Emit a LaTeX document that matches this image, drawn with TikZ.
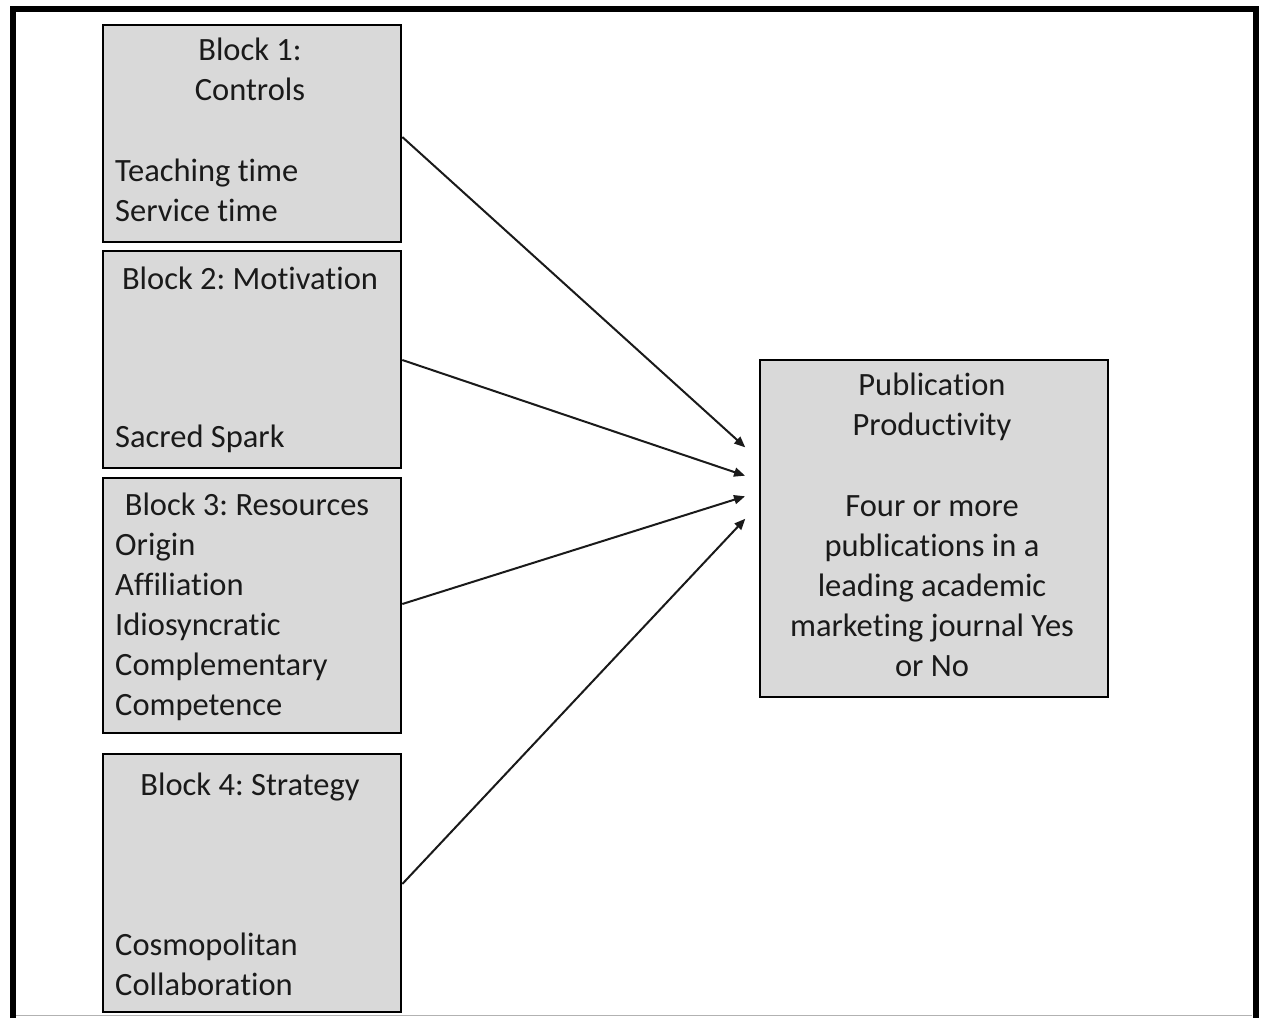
\documentclass[tikz,border=0pt]{standalone}
\usepackage{fontspec}
\setmainfont{Carlito}[Ligatures=NoCommon]
\usetikzlibrary{arrows.meta}
\definecolor{boxfill}{HTML}{D9D9D9}
\definecolor{ink}{HTML}{1A1A1A}
\frenchspacing
\begin{document}
\begin{tikzpicture}[x=1pt,y=-1pt,
  blockbox/.style={draw=black, line width=2.6pt, fill=boxfill, inner sep=0pt},
  txt/.style={inner sep=0pt, text=ink, font=\fontsize{32.5}{40}\selectfont},
  hdr/.style={txt, anchor=base, align=center},
  items/.style={txt, anchor=base west, align=left},
  link/.style={draw=ink, line width=2pt, -{Triangle[length=11pt,width=9pt]}, shorten >=1pt}]
  % page and its frame, open at the foot
  \useasboundingbox (0,0) rectangle (1264,1018);
  \fill[white] (0,0) rectangle (1264,1018);
  \draw[line width=6pt, line join=miter] (13,1018) -- (13,8.5) -- (1255.5,8.5) -- (1255.5,1018);
  \draw[gray!60, line width=1.5pt] (16,1015.5) -- (1252,1015.5);

  % predictor blocks
  \node[blockbox, minimum width=298pt, minimum height=217pt] (b1) at (252,133.5) {};
  \node[blockbox, minimum width=298pt, minimum height=217pt] (b2) at (252,359.5) {};
  \node[blockbox, minimum width=298pt, minimum height=255pt] (b3) at (252,605.5) {};
  \node[blockbox, minimum width=298pt, minimum height=258pt] (b4) at (252,883) {};
  % outcome
  \node[blockbox, minimum width=348pt, minimum height=337pt] (out) at (934,528.5) {};

  % block texts (anchored at the baseline of their last line)
  \node[hdr] (h1) at (250,100) {Block 1:\\Controls};
  \node[items] (i1) at (115,221) {Teaching time\\Service time};
  \node[hdr] (h2) at (250,289) {Block 2: Motivation};
  \node[items] (i2) at (115,447) {Sacred Spark};
  \node[hdr] (h3) at (247,515) {Block 3: Resources};
  \node[items] (i3) at (115,715) {Origin\\Affiliation\\Idiosyncratic\\Complementary\\Competence};
  \node[hdr] (h4) at (250,795) {Block 4: Strategy};
  \node[items] (i4) at (115,995) {Cosmopolitan\\Collaboration};
  \node[hdr] (ho) at (932,435) {Publication\\Productivity};
  \node[hdr] (io) at (932,676) {Four or more\\publications in a\\leading academic\\marketing journal Yes\\or No};

  % arrow ends in front of the outcome box
  \coordinate (t1) at (746,448);
  \coordinate (t2) at (746,476);
  \coordinate (t3) at (746,496);
  \coordinate (t4) at (746,518);

  \draw[link] (b1.east |- 0,137) -- (t1);
  \draw[link] (b2.east |- 0,360) -- (t2);
  \draw[link] (b3.east |- 0,604) -- (t3);
  \draw[link] (b4.east |- 0,884) -- (t4);
\end{tikzpicture}
\end{document}
